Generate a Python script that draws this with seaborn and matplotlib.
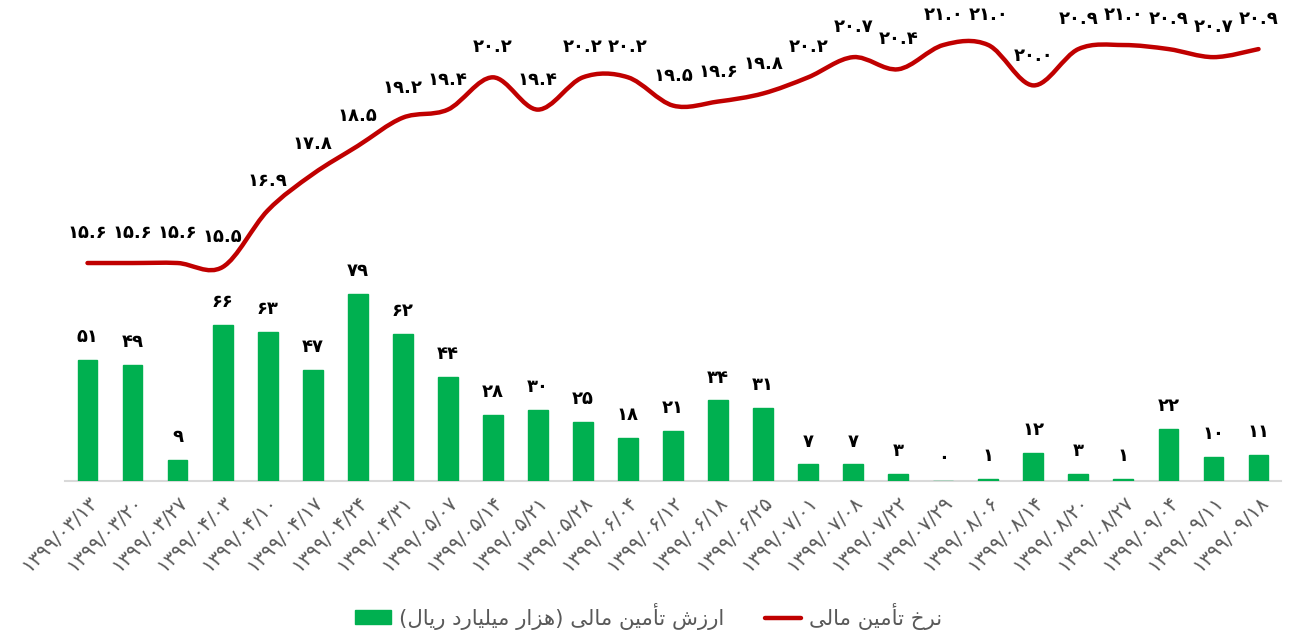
import matplotlib
matplotlib.use("Agg")
import matplotlib.pyplot as plt
from matplotlib.path import Path
from matplotlib.patches import PathPatch, Patch
from matplotlib.lines import Line2D
import numpy as np
import seaborn as sns

# data
dates = ["1399/03/13", "1399/03/20", "1399/03/27", "1399/04/03", "1399/04/10",
         "1399/04/17", "1399/04/24", "1399/04/31", "1399/05/07", "1399/05/14",
         "1399/05/21", "1399/05/28", "1399/06/04", "1399/06/12", "1399/06/18",
         "1399/06/25", "1399/07/01", "1399/07/08", "1399/07/22", "1399/07/29",
         "1399/08/06", "1399/08/14", "1399/08/20", "1399/08/27", "1399/09/04",
         "1399/09/11", "1399/09/18"]
finance_value = [51, 49, 9, 66, 63, 47, 79, 62, 44, 28, 30, 25, 18, 21, 34,
                 31, 7, 7, 3, 0, 1, 12, 3, 1, 22, 10, 11]
finance_rate = [15.6, 15.6, 15.6, 15.5, 16.9, 17.8, 18.5, 19.2, 19.4, 20.2,
                19.4, 20.2, 20.2, 19.5, 19.6, 19.8, 20.2, 20.7, 20.4, 21.0,
                21.0, 20.0, 20.9, 21.0, 20.9, 20.7, 20.9]
bar_label = "ارزش تأمین مالی (هزار میلیارد ریال)"
line_label = "نرخ تأمین مالی"

GREEN = "#00B050"
RED = "#C00000"
GRAY = "#595959"

FA_DIGITS = str.maketrans("0123456789", "۰۱۲۳۴۵۶۷۸۹")


def fa(s):
    return str(s).translate(FA_DIGITS)


# minimal arabic shaping (matplotlib has no bidi / shaping)
# char: (isolated, final, initial, medial)
FORMS = {
    "ا": ("\uFE8D", "\uFE8E"), "أ": ("\uFE83", "\uFE84"),
    "ر": ("\uFEAD", "\uFEAE"), "ز": ("\uFEAF", "\uFEB0"),
    "د": ("\uFEA9", "\uFEAA"),
    "ت": ("\uFE95", "\uFE96", "\uFE97", "\uFE98"),
    "خ": ("\uFEA5", "\uFEA6", "\uFEA7", "\uFEA8"),
    "ش": ("\uFEB5", "\uFEB6", "\uFEB7", "\uFEB8"),
    "ل": ("\uFEDD", "\uFEDE", "\uFEDF", "\uFEE0"),
    "م": ("\uFEE1", "\uFEE2", "\uFEE3", "\uFEE4"),
    "ن": ("\uFEE5", "\uFEE6", "\uFEE7", "\uFEE8"),
    "ه": ("\uFEE9", "\uFEEA", "\uFEEB", "\uFEEC"),
    "ی": ("\uFBFC", "\uFBFD", "\uFBFE", "\uFBFF"),
}
MIRROR = {"(": ")", ")": "("}


def shape(text):
    out = []
    for i, ch in enumerate(text):
        if ch not in FORMS:
            out.append(MIRROR.get(ch, ch))
            continue
        prev = text[i - 1] if i > 0 else ""
        nxt = text[i + 1] if i + 1 < len(text) else ""
        join_prev = prev in FORMS and len(FORMS[prev]) == 4
        join_next = len(FORMS[ch]) == 4 and nxt in FORMS
        f = FORMS[ch]
        if join_prev and join_next:
            out.append(f[3])
        elif join_prev:
            out.append(f[1])
        elif join_next:
            out.append(f[2])
        else:
            out.append(f[0])
    return "".join(reversed(out))


sns.set_style("white")
plt.rcParams["font.family"] = ["DejaVu Sans"]

fig = plt.figure(figsize=(12.97, 6.35), dpi=100)
ax = fig.add_axes([0.0501, 0.2425, 0.9376, 0.726])

x = np.arange(len(dates))
sns.barplot(x=x, y=finance_value, color=GREEN, width=0.44, saturation=1,
            edgecolor=GREEN, linewidth=1, ax=ax, zorder=3)
ax.set_xlim(-0.5, len(dates) - 0.5)
ax.set_ylim(0, 194.5)
ax.set_yticks([])
ax.set_xticks(x)
ax.set_xticklabels([fa(d) for d in dates], rotation=45, ha="right",
                   rotation_mode="anchor", color=GRAY, fontsize=14.2)
ax.tick_params(axis="x", length=0, pad=8)
for side in ["top", "right", "left"]:
    ax.spines[side].set_visible(False)
ax.spines["bottom"].set_color("#D9D9D9")
ax.spines["bottom"].set_linewidth(1.5)
ax.set_xlabel("")
ax.set_ylabel("")

for xi, v in zip(x, finance_value):
    ax.annotate(fa(v), (xi, v), xytext=(0, 10), textcoords="offset points",
                ha="center", va="bottom", fontsize=13, fontweight="bold",
                color="black")

# smoothed rate line on a twin axis (excel style bezier through the points)
ax2 = ax.twinx()
ax2.set_ylim(10.2, 21.62)
ax2.set_yticks([])
for side in ax2.spines:
    ax2.spines[side].set_visible(False)

pts = np.column_stack([x, finance_rate]).astype(float)
verts = [pts[0]]
codes = [Path.MOVETO]
n = len(pts)
for i in range(n - 1):
    p0 = pts[max(i - 1, 0)]
    p1 = pts[i]
    p2 = pts[i + 1]
    p3 = pts[min(i + 2, n - 1)]
    verts += [p1 + (p2 - p0) / 6, p2 - (p3 - p1) / 6, p2]
    codes += [Path.CURVE4] * 3
ax2.add_patch(PathPatch(Path(verts, codes), facecolor="none", edgecolor=RED,
                        linewidth=3.2, capstyle="round", joinstyle="round"))

for xi, v in zip(x, finance_rate):
    ax2.annotate(fa(f"{v:.1f}"), (xi, v), xytext=(0, 15),
                 textcoords="offset points", ha="center", va="bottom",
                 fontsize=13, fontweight="bold", color="black")

handles = [Patch(facecolor=GREEN, edgecolor=GREEN),
           Line2D([0], [0], color=RED, linewidth=3.2)]
fig.legend(handles, [shape(bar_label), shape(line_label)], loc="lower center",
           bbox_to_anchor=(0.5, -0.022), ncol=2, frameon=False, fontsize=15.3,
           labelcolor=GRAY, handlelength=1.7, handleheight=0.65,
           handletextpad=0.4, columnspacing=1.9)

fig.savefig("out.png", dpi=100)
